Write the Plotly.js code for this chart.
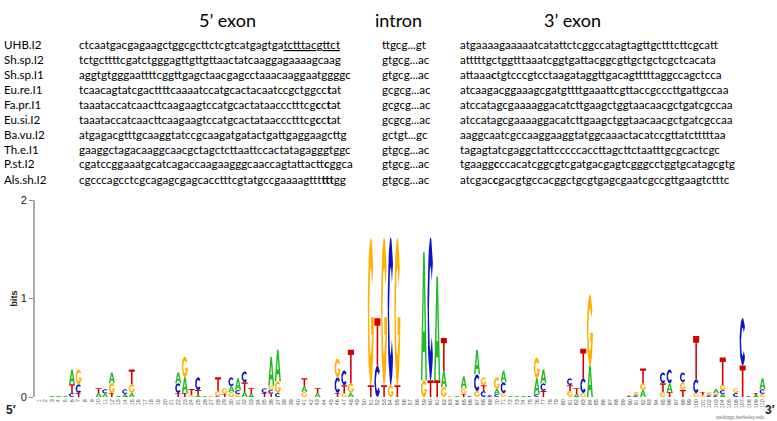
<!DOCTYPE html>
<html>
<head>
<meta charset="utf-8">
<script src="https://cdn.plot.ly/plotly-3.0.1.min.js"></script>
<style>
  html, body { margin: 0; padding: 0; background: #fff; }
  #logo { width: 777px; height: 421px; }
</style>
</head>
<body>
<div id="logo"></div>
<script>
// ---- alignment text ----
const names = ["UHB.I2", "Sh.sp.I2", "Sh.sp.I1", "Eu.re.I1", "Fa.pr.I1", "Eu.si.I2", "Ba.vu.I2", "Th.e.I1", "P.st.I2", "Als.sh.I2"];

const exon5 = [
  "ctcaatgacgagaagctggcgcttctcgtcatgagtga<span style=\"text-decoration:underline\">tctttac</span>g<span style=\"text-decoration:underline\">ttct</span>",
  "tctgcttttcgatctgggagttgttgttaactatcaaggagaaaagcaag",
  "aggtgtgggaattttcggttgagctaacgagcctaaacaaggaatggggc",
  "tcaacagtatcgacttttcaaaatccatgcactacaatccgctggcc<b>t</b>at",
  "taaataccatcaacttcaagaagtccatgcactataaccctttcg<b>c</b>c<b>t</b>at",
  "taaataccatcaacttcaagaagtccatgcactataaccctttcg<b>c</b>c<b>t</b>at",
  "atgagacgtttgcaaggtatccgcaagatgatactgattgaggaagcttg",
  "gaaggctagacaaggcaacgctagctcttaattccactatagagggtggc",
  "cgatccggaaatgcatcagaccaagaagggcaaccagtattactt<b>c</b>ggca",
  "cgcccagcctcgcagagcgagcacctttcgtatgccgaaaagttt<b>ttt</b>gg"
];

const intron = ["ttgcg...gt", "gtgcg...ac", "gtgcg...ac", "gcgcg...ac", "gcgcg...ac", "gcgcg...ac", "gctgt...gc", "gtgcg...ac", "gtgcg...ac", "gtgcg...ac"];

const exon3 = [
  "atgaaaagaaaaatcatattctcggccatagtagttgctttcttcgcatt",
  "atttttgctggtttaaatcggtgattacggcgttgctgctcgctcacata",
  "attaaa<b>c</b>tgtcccgtcctaagataggttgacagtttttaggccagctcca",
  "atcaagacggaaagcgatgttttgaaattcgttaccgcccttgattgccaa",
  "atccatagcgaaaaggacatcttgaagctggtaacaacgctgatcgccaa",
  "atccatagcgaaaaggacatcttgaagctggtaacaacgctgatcgccaa",
  "aaggcaatcgccaaggaaggtatggcaaactacatccgttatctttttaa",
  "tagagtatcgaggctattcccccaccttagcttctaatttgcgcactcgc",
  "tgaagg<b>c</b>ccacatcggcgtcgatgacgagtcgggcctggtgcatagcgtg",
  "atcgac<b>c</b>gacgtgccacggctgcgtgagcgaatcgccgttgaagtctttc"
];

const headers = ["5\u2019 exon", "intron", "3\u2019 exon"];

// ---- logo data (bits per letter at each position) ----
const positions = Array.from({ length: 110 }, (_, i) => i + 1);

const bitsA = [
  0, 0, .01, .01, .01, .15, 0, 0, 0, .04,
  .035, .11, .01, .03, .04, 0, 0, 0, 0, 0,
  0, .11, .16, 0, .02, .01, 0, 0, 0, .06,
  .12, .05, .03, 0, 0, .29, .32, 0, 0, 0,
  .06, 0, .04, 0, 0, 0, 0, .04, 0, 0,
  0, 0, 0, 0, 0, 0, 0, 0, 1.3, 0,
  1.05, .16, 0, .01, .12, 0, .25, 0, 0, .05,
  .12, .01, .01, .01, 0, .16, .14, 0, 0, 0,
  0, .03, 0, .32, 0, 0, 0, 0, 0, 0,
  0, .07, 0, 0, 0, .09, 0, 0, 0, 0,
  0, 0, .04, .03, 0, 0, 0, 0, .02, .11
];
const bitsC = [
  0, 0, 0, 0, 0, .04, .09, 0, 0, 0,
  .045, 0, 0, .05, 0, 0, 0, 0, 0, 0,
  0, .10, 0, 0, .13, 0, 0, .01, 0, .09,
  .04, .11, 0, 0, .05, .04, .04, 0, 0, 0,
  0, 0, 0, 0, 0, .16, .15, 0, 0, 0,
  0, .32, 0, 1.5, 0, 0, 0, 0, 0, 1.45,
  0, 0, 0, 0, 0, .01, .17, .06, .02, .03,
  .11, 0, 0, 0, .01, .03, .08, 0, 0, 0,
  .07, 0, .15, 0, 0, 0, 0, 0, 0, .01,
  .02, 0, 0, 0, .11, .14, 0, .10, 0, .14,
  0, .02, .02, .04, 0, .04, .48, .01, 0, .05
];
const bitsG = [
  0, 0, 0, 0, 0, 0, .15, 0, 0, 0,
  0, .10, 0, 0, .09, 0, 0, 0, 0, 0,
  0, 0, .21, .02, 0, 0, .01, .05, .06, .05,
  .03, 0, 0, 0, 0, .04, .12, 0, 0, 0,
  .05, 0, 0, 0, 0, .19, .04, .10, 0, 0,
  1.5, 0, 1.5, .12, 1.5, 0, 0, 0, .17, 0,
  0, .10, .01, 0, .06, 0, .06, .08, 0, .12,
  .04, 0, 0, 0, 0, .21, 0, 0, 0, 0,
  .06, 0, .04, .72, 0, 0, 0, 0, 0, .01,
  .03, .07, 0, 0, .05, 0, 0, .08, 0, .04,
  .02, .03, .02, .05, 0, .05, 0, 0, 0, .03
];
const bitsT = [
  0, 0, 0, 0, 0, .09, .04, 0, 0, .05,
  0, .04, 0, 0, .15, 0, 0, 0, 0, 0,
  0, .04, .04, .06, .05, 0, 0, .14, .03, 0,
  0, .10, .06, 0, .04, .035, 0, 0, 0, 0,
  .08, 0, .05, 0, 0, .04, .08, .34, 0, 0,
  .12, .48, .12, 0, .12, 0, 0, 0, 0, .17,
  .17, .34, 0, 0, .03, 0, 0, .06, 0, 0,
  0, 0, 0, 0, 0, 0, .06, 0, 0, 0,
  .06, .06, .30, 0, 0, 0, 0, 0, 0, 0,
  0, .15, 0, 0, .09, .05, 0, .07, 0, .44,
  .03, 0, 0, .28, 0, 0, .32, 0, .02, 0
];

const letterColors = { A: "#22bb22", C: "#0a14c8", G: "#ffb000", T: "#d40000" };

// ---- glyph outlines in a unit box ----
function arc(rx, ry, a0, a1, n) {
  const pts = [];
  for (let i = 0; i <= n; i++) {
    const a = (a0 + (a1 - a0) * i / n) * Math.PI / 180;
    pts.push([0.5 + rx * Math.cos(a), 0.5 + ry * Math.sin(a)]);
  }
  return pts;
}

const glyphs = {
  A: [[0, 0], [0.25, 0], [0.32, 0.22], [0.68, 0.22], [0.75, 0], [1, 0], [0.63, 1], [0.37, 1]],
  T: [[0, 1], [1, 1], [1, 0.84], [0.63, 0.84], [0.63, 0], [0.37, 0], [0.37, 0.84], [0, 0.84]],
  C: arc(0.5, 0.5, 40, 320, 40).concat(arc(0.26, 0.3, 320, 40, 40)),
  G: arc(0.5, 0.5, 35, 360, 40)
    .concat([[1, 0.46], [0.55, 0.46], [0.55, 0.34], [0.76, 0.34]])
    .concat(arc(0.26, 0.3, 330, 35, 40))
};
const holeA = [[0.38, 0.38], [0.62, 0.38], [0.5, 0.74]];

// ---- build stacks ----
const traces = {};
["A", "C", "G", "T", "hole"].forEach(k => { traces[k] = { x: [], y: [] }; });

function addGlyph(target, pts, p, y0, h) {
  const w = 0.92;
  pts.forEach(([u, v]) => {
    target.x.push(p - w / 2 + u * w);
    target.y.push(y0 + v * h);
  });
  target.x.push(null);
  target.y.push(null);
}

positions.forEach((p, i) => {
  const stack = [
    ["A", bitsA[i]], ["C", bitsC[i]], ["G", bitsG[i]], ["T", bitsT[i]]
  ].filter(d => d[1] > 0).sort((a, b) => a[1] - b[1]);
  let y0 = 0;
  stack.forEach(([letter, h]) => {
    addGlyph(traces[letter], glyphs[letter], p, y0, h);
    if (letter === "A") addGlyph(traces.hole, holeA, p, y0, h);
    y0 += h;
  });
});

const data = ["A", "C", "G", "T", "hole"].map(k => ({
  type: "scatter",
  mode: "lines",
  x: traces[k].x,
  y: traces[k].y,
  fill: "toself",
  fillcolor: k === "hole" ? "#ffffff" : letterColors[k],
  line: { width: 0, color: k === "hole" ? "#ffffff" : letterColors[k] },
  hoverinfo: "skip",
  showlegend: false
}));

// ---- text annotations ----
const textFont = { family: "Lato, 'Open Sans', sans-serif", size: 11.6, color: "#000" };
const px2x = px => (px - 35) / 732;
const px2y = py => (397 - py) / 197;

const annotations = [];
const headerX = [227, 398, 572];
headers.forEach((h, i) => {
  annotations.push({
    xref: "paper", yref: "paper", x: px2x(headerX[i]), y: px2y(20),
    xanchor: "center", yanchor: "middle", showarrow: false,
    text: h, font: { family: "Lato, 'Open Sans', sans-serif", size: 18, color: "#000" }
  });
});
names.forEach((n, i) => {
  const y = px2y(44 + 15 * i);
  [[2, n], [77, exon5[i]], [380, intron[i]], [458, exon3[i]]].forEach(([px, t]) => {
    annotations.push({
      xref: "paper", yref: "paper", x: px2x(px), y,
      xanchor: "left", yanchor: "middle", showarrow: false,
      text: t, font: textFont
    });
  });
});
annotations.push(
  { xref: "paper", yref: "paper", x: px2x(11), y: px2y(410), xanchor: "center", yanchor: "middle",
    showarrow: false, text: "<b>5\u2032</b>", font: { family: "Liberation Sans, Arial", size: 12, color: "#222" } },
  { xref: "paper", yref: "paper", x: px2x(770), y: px2y(410), xanchor: "center", yanchor: "middle",
    showarrow: false, text: "<b>3\u2032</b>", font: { family: "Liberation Sans, Arial", size: 12, color: "#222" } },
  { xref: "paper", yref: "paper", x: px2x(766), y: px2y(417), xanchor: "right", yanchor: "middle",
    showarrow: false, text: "weblogo.berkeley.edu", font: { family: "Liberation Sans, Arial", size: 5, color: "#777" } }
);

const layout = {
  width: 777,
  height: 421,
  margin: { l: 35, r: 10, t: 200, b: 24 },
  paper_bgcolor: "#fff",
  plot_bgcolor: "#fff",
  showlegend: false,
  xaxis: {
    range: [0.43, 110.67],
    tickmode: "array",
    tickvals: positions,
    ticktext: positions.map(String),
    tickangle: -90,
    tickfont: { family: "Liberation Sans, Arial", size: 5.5, color: "#555" },
    ticks: "",
    showgrid: false,
    zeroline: false,
    showline: false
  },
  yaxis: {
    range: [0, 2],
    tickvals: [0, 1, 2],
    ticks: "outside",
    ticklen: 4,
    tickcolor: "#888",
    tickfont: { family: "Liberation Sans, Arial", size: 11, color: "#222" },
    showline: true,
    linecolor: "#aaa",
    linewidth: 2,
    showgrid: false,
    zeroline: false,
    title: { text: "<b>bits</b>", standoff: 2, font: { family: "Liberation Sans, Arial", size: 9, color: "#222" } }
  },
  annotations
};

Plotly.newPlot("logo", data, layout, { displayModeBar: false, staticPlot: true });
</script>
</body>
</html>
